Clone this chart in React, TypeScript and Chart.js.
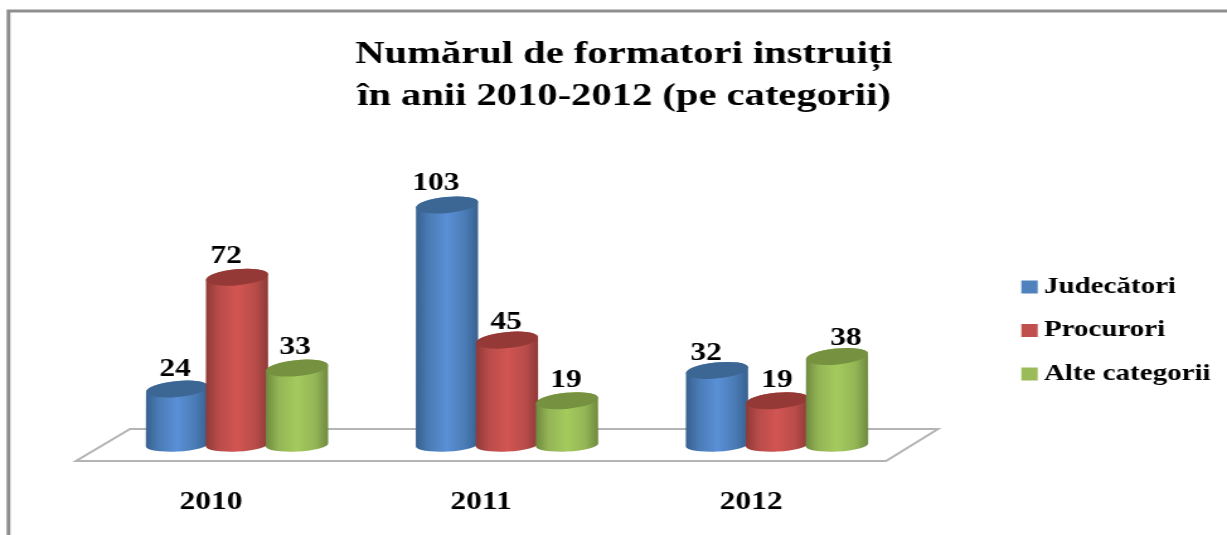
import React, { useEffect, useRef } from "react";
import { Chart, registerables } from "chart.js";

Chart.register(...registerables);

const categories = ["2010", "2011", "2012"];
const seriesNames = ["Judecători", "Procurori", "Alte categorii"];
const judecatori = [24, 103, 32];
const procurori = [72, 45, 19];
const alteCategorii = [33, 19, 38];
const titleLines = ["Numărul de formatori instruiți", "în anii 2010-2012 (pe categorii)"];

const LEGEND_COLORS = ["#4f81bd", "#c0504d", "#9bbb59"];
const CYLINDER = [
  { edge: "#37608f", mid: "#4a7bb5", light: "#5a90d6", cap: "#3c6795" },
  { edge: "#8e3a38", mid: "#b84c4a", light: "#d25552", cap: "#943936" },
  { edge: "#6f8a40", mid: "#94b555", light: "#a5cb5e", cap: "#76913f" },
];

// The reference is a horizontally stretched picture: draw in a narrower bitmap and let CSS widen it.
const VIEW_W = 1227;
const VIEW_H = 535;
const LOGICAL_W = 974;
const S = VIEW_W / LOGICAL_W;
const px = (x: number) => x / S;

const DEPTH_X = 26; // half the floor's shear, in screen px
// hand placement of the value labels relative to their cylinder, screen px, per category per series
const labelNudgeX = [
  [-2, -11, -2],
  [-11, -1, -1],
  [-11, 0, 9],
];
const labelNudgeY = [
  [0, -1, -1],
  [-1, 2, 0],
  [3, 0, 2],
];

const FONT = "'Liberation Serif', serif";

const cylinderPlugin = {
  id: "cylinders",
  beforeDraw(chart: any) {
    const ctx = chart.ctx;
    ctx.save();
    ctx.fillStyle = "#ffffff";
    ctx.fillRect(0, 0, chart.width, chart.height);
    ctx.strokeStyle = "#8e8e8e";
    ctx.lineWidth = 3;
    ctx.beginPath();
    ctx.moveTo(px(8.5), VIEW_H);
    ctx.lineTo(px(8.5), 11);
    ctx.lineTo(chart.width, 11);
    ctx.stroke();
    ctx.restore();
  },
  afterLayout(chart: any) {
    const legend = chart.legend;
    legend.left = px(1029.5) - 20.5;
    legend.top = 255;
    legend.right = legend.left + legend.width + 10;
    legend.bottom = legend.top + legend.height + 10;
    const title = chart.titleBlock;
    title.left = 0;
    title.right = px(624) * 2;
  },
  beforeDatasetsDraw(chart: any) {
    const ctx = chart.ctx;
    const { left, right, bottom } = chart.chartArea;
    const shift = px(DEPTH_X);
    // floor
    ctx.save();
    ctx.strokeStyle = "#b4b4b4";
    ctx.lineWidth = 2;
    ctx.lineJoin = "miter";
    ctx.beginPath();
    ctx.moveTo(left, bottom + 16);
    ctx.lineTo(right, bottom + 16);
    ctx.lineTo(right + shift * 2, bottom - 16);
    ctx.lineTo(left + shift * 2 + px(2), bottom - 16);
    ctx.closePath();
    ctx.stroke();
    ctx.restore();

    const tilt = -0.125;
    chart.data.datasets.forEach((_: any, d: number) => {
      const meta = chart.getDatasetMeta(d);
      meta.data.forEach((bar: any) => {
        const cx = bar.x + shift;
        const rx = bar.width / 2 + px(1);
        const rxT = rx / Math.cos(tilt);
        const c = CYLINDER[d];
        const g = ctx.createLinearGradient(cx - rx, 0, cx + rx, 0);
        g.addColorStop(0, c.edge);
        g.addColorStop(0.2, c.mid);
        g.addColorStop(0.5, c.light);
        g.addColorStop(0.8, c.mid);
        g.addColorStop(1, c.edge);
        ctx.save();
        ctx.fillStyle = g;
        ctx.beginPath();
        ctx.ellipse(cx, bar.base, rxT, 6.5, tilt / 2, 0, Math.PI, false);
        ctx.ellipse(cx, bar.y, rxT, 8, tilt, Math.PI, Math.PI * 2, false);
        ctx.closePath();
        ctx.fill();
        ctx.fillStyle = c.cap;
        ctx.beginPath();
        ctx.ellipse(cx, bar.y, rxT, 8, tilt, 0, Math.PI * 2);
        ctx.fill();
        ctx.restore();
      });
    });

    // value labels (returning false below skips the library's own flat bars and later hook)
    ctx.save();
    ctx.fillStyle = "#000000";
    ctx.font = `bold 25px ${FONT}`;
    ctx.textAlign = "center";
    ctx.textBaseline = "middle";
    chart.data.datasets.forEach((ds: any, d: number) => {
      chart.getDatasetMeta(d).data.forEach((bar: any, i: number) => {
        ctx.fillText(
          String(ds.data[i]),
          bar.x + shift + px(labelNudgeX[i][d]),
          bar.y - 20 + labelNudgeY[i][d],
        );
      });
    });
    ctx.restore();
    return false;
  },
};

export default function App() {
  const ref = useRef<HTMLCanvasElement>(null);
  useEffect(() => {
    const chart = new Chart(ref.current as HTMLCanvasElement, {
      type: "bar",
      data: {
        labels: categories,
        datasets: [judecatori, procurori, alteCategorii].map((data, i) => ({
          label: seriesNames[i],
          data,
          backgroundColor: LEGEND_COLORS[i],
          borderWidth: 0,
          categoryPercentage: 2 / 3,
          barPercentage: 1,
        })),
      },
      options: {
        animation: false,
        responsive: false,
        devicePixelRatio: 1,
        events: [],
        layout: {
          padding: { left: px(76), right: LOGICAL_W - px(886), top: 0, bottom: 20 },
        },
        scales: {
          x: {
            afterFit(scale: any) {
              scale.height = 70;
            },
            grid: { display: false },
            border: { display: false },
            ticks: {
              color: "#000000",
              font: { family: FONT, size: 25, weight: "bold", lineHeight: "30px" },
              padding: 35,
              maxRotation: 0,
              autoSkip: false,
            },
          },
          y: { display: false, min: 0, max: 118 },
        },
        plugins: {
          title: {
            display: true,
            text: titleLines,
            color: "#000000",
            font: { family: FONT, size: 32.2, weight: "bold", lineHeight: "42px" },
            padding: { top: 34, bottom: 52 },
          },
          legend: {
            position: "chartArea",
            align: "start",
            labels: {
              color: "#000000",
              font: { family: FONT, size: 23, weight: "bold" },
              usePointStyle: true,
              pointStyle: "rect",
              boxWidth: 0.01,
              boxHeight: 13,
              padding: 20.5,
            },
          },
          tooltip: { enabled: false },
        },
      } as any,
      plugins: [cylinderPlugin as any],
    });
    return () => chart.destroy();
  }, []);
  return (
    <canvas
      ref={ref}
      width={LOGICAL_W}
      height={VIEW_H}
      style={{
        position: "fixed",
        left: 0,
        top: 0,
        width: VIEW_W,
        height: VIEW_H,
        filter: "blur(0.4px)",
      }}
    />
  );
}
